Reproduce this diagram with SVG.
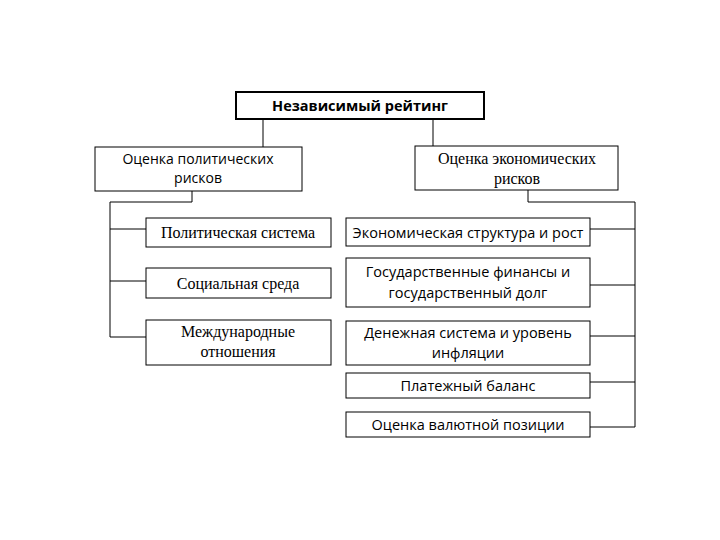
<svg xmlns="http://www.w3.org/2000/svg" width="720" height="540" viewBox="0 0 720 540">
<style>
.box{fill:#fff;stroke:#000;stroke-width:1}
.top{fill:#fff;stroke:#000;stroke-width:2}
.ln{fill:none;stroke:#000;stroke-width:1}
.sans{font-family:"Open Sans","Liberation Sans",sans-serif;font-size:14.5px;fill:#000;text-anchor:middle}
.serif{font-family:"Liberation Serif","Times New Roman",serif;font-size:16px;fill:#000;text-anchor:middle}
.bold{font-weight:bold}
.s14{font-size:14px}
</style>
<rect width="720" height="540" fill="#fff"/>
<g id="connectors">
<path class="ln" d="M263 119V147"/>
<path class="ln" d="M433 119V146"/>
<path class="ln" d="M192 191V202H110V337M110 229H146M110 281H146M110 337H146"/>
<path class="ln" d="M528 190V202H635V427M590 229H635M590 285H635M590 336H635M590 382H635M590 427H635"/>
</g>
<g id="n-root"><rect class="top" x="236" y="92" width="248" height="27"/><text class="sans bold" x="360" y="111">Независимый рейтинг</text></g>
<g id="n-pol"><rect class="box" x="95" y="147" width="207" height="44"/><text class="sans s14" x="198" y="164">Оценка политических</text><text class="sans s14" x="198" y="183">рисков</text></g>
<g id="n-eco"><rect class="box" x="415" y="146" width="203" height="44"/><text class="serif" x="517" y="164">Оценка экономических</text><text class="serif" x="517" y="184">рисков</text></g>
<g id="n-p1"><rect class="box" x="146" y="218" width="185" height="29"/><text class="serif" x="238" y="238">Политическая система</text></g>
<g id="n-p2"><rect class="box" x="146" y="268" width="185" height="30"/><text class="serif" x="238" y="289">Социальная среда</text></g>
<g id="n-p3"><rect class="box" x="146" y="320" width="185" height="45"/><text class="serif" x="238" y="337">Международные</text><text class="serif" x="238" y="357">отношения</text></g>
<g id="n-e1"><rect class="box" x="346" y="218" width="244" height="28"/><text class="sans" x="468" y="238">Экономическая структура и рост</text></g>
<g id="n-e2"><rect class="box" x="346" y="258" width="244" height="49"/><text class="sans" x="468" y="277">Государственные финансы и</text><text class="sans" x="468" y="298">государственный долг</text></g>
<g id="n-e3"><rect class="box" x="346" y="321" width="244" height="44"/><text class="sans" x="468" y="338">Денежная система и уровень</text><text class="sans" x="468" y="358">инфляции</text></g>
<g id="n-e4"><rect class="box" x="346" y="373" width="244" height="25"/><text class="sans" x="468" y="391">Платежный баланс</text></g>
<g id="n-e5"><rect class="box" x="346" y="412" width="244" height="25"/><text class="sans" x="468" y="430">Оценка валютной позиции</text></g>
</svg>
